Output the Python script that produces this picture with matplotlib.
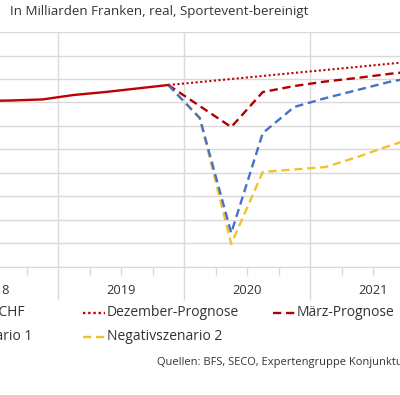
import matplotlib
matplotlib.use("Agg")
import matplotlib.pyplot as plt
from matplotlib.lines import Line2D

plt.rcParams["font.family"] = ["Open Sans", "DejaVu Sans"]

# Quarters 2018Q1 .. 2021Q4 (index 0..15), points sit at quarter centres
years = ["2018", "2019", "2020", "2021"]

bip_q = [0, 1, 2, 3, 4, 5, 6, 7]
bip = [174.13, 174.13, 174.17, 174.26, 174.64, 174.89, 175.19, 175.49]

prog_q = [7, 8, 9, 10, 11, 12, 13, 14, 15]
dez = [175.49, 175.74, 176.00, 176.26, 176.52, 176.77, 177.03, 177.29, 177.55]
maerz = [175.49, 173.70, 171.91, 174.89, 175.40, 175.79, 176.09, 176.43, 176.72]
neg1 = [175.49, 172.68, 162.89, 171.40, 173.62, 174.38, 175.06, 175.74, 176.26]
neg2 = [175.49, 172.68, 161.96, 168.09, 168.30, 168.51, 169.36, 170.30, 171.15]

W, H = 400, 395
grid_col = "#D9D9D9"
txt_col = "#333333"
red = "#C00000"
dark_red = "#B00000"
blue = "#4472C4"
yellow = "#F2C12E"

fig = plt.figure(figsize=(W / 100, H / 100), dpi=100)

# Axes deliberately wider than the figure (chart is a crop)
ax = fig.add_axes([-68 / W, 1 - 267 / H, 504 / W, 235 / H])

x_bip = [q + 0.5 for q in bip_q]
x_prog = [q + 0.5 for q in prog_q]

ax.plot(x_prog, dez, color=red, lw=1.5, linestyle=(0, (1, 1.2)), zorder=3)
ax.plot(x_prog, maerz, color=dark_red, lw=1.7, linestyle=(0, (3.5, 2)), zorder=4)
ax.plot(x_prog, neg2, color=yellow, lw=1.7, linestyle=(0, (3.5, 2)), zorder=3)
ax.plot(x_prog, neg1, color=blue, lw=1.7, linestyle=(0, (3.5, 2)), zorder=4)
ax.plot(x_bip, bip, color=red, lw=1.7, zorder=5)

ax.set_xlim(0, 16)
ax.set_ylim(160, 180)
ax.set_yticks(range(160, 181, 2))
ax.set_xticks(range(0, 17, 4))
ax.set_xticks(range(0, 17), minor=True)

ax.grid(True, which="major", color=grid_col, lw=1.0, zorder=0)
ax.tick_params(axis="y", left=False, labelleft=False)
ax.tick_params(axis="x", which="major", length=24, color=grid_col,
               width=1.0, labelbottom=False)
ax.tick_params(axis="x", which="minor", length=5.8, color=grid_col, width=1.0)

for side in ["left", "right", "top"]:
    ax.spines[side].set_visible(False)
ax.spines["bottom"].set_color(grid_col)

for i, yr in enumerate(years):
    ax.text(i * 4 + 2, -0.102, yr, transform=ax.get_xaxis_transform(),
            ha="center", va="center", fontsize=9.3, color=txt_col)

# Subtitle line of the original
fig.text(10 / W, 1 - 11 / H, "In Milliarden Franken, real, Sportevent-bereinigt",
         ha="left", va="center", fontsize=9.6, color=txt_col)

# Legend drawn by hand to follow the Excel layout
legend_items = [
    ("BIP in Mrd. CHF", red, "-", -100, 313),
    ("Dezember-Prognose", red, (0, (1, 1.2)), 83, 313),
    ("März-Prognose", dark_red, (0, (3.5, 2)), 273, 313),
    ("Negativszenario 1", blue, (0, (3.5, 2)), -107, 337),
    ("Negativszenario 2", yellow, (0, (3.5, 2)), 83, 337),
]
for label, col, ls, px, py in legend_items:
    fig.add_artist(Line2D([px / W, (px + 22) / W], [1 - py / H, 1 - py / H],
                          transform=fig.transFigure, color=col, lw=1.7,
                          linestyle=ls))
    fig.text((px + 24) / W, 1 - py / H, label, ha="left", va="center",
             fontsize=10, color=txt_col)

fig.text(157 / W, 1 - 362 / H,
         "Quellen: BFS, SECO, Expertengruppe Konjunkturprognosen",
         ha="left", va="center", fontsize=8, color=txt_col)

fig.savefig("out.png", dpi=100)
